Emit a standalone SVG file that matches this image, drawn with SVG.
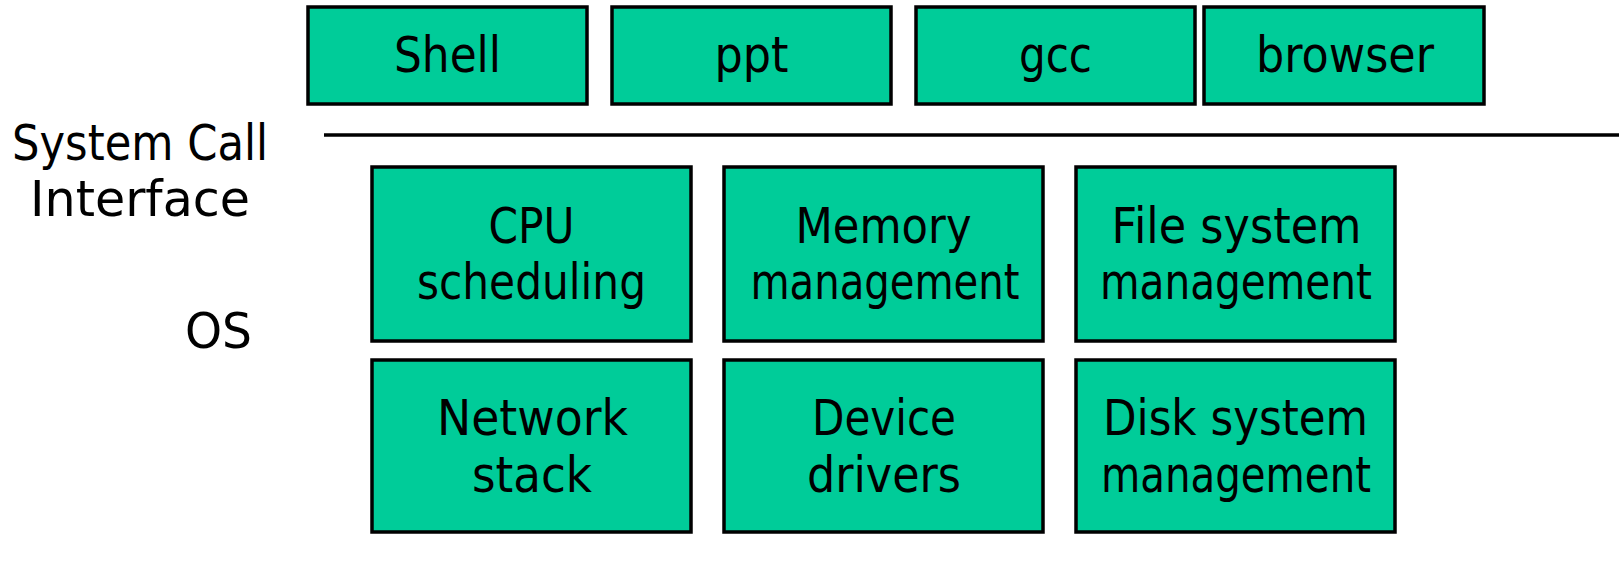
<svg xmlns="http://www.w3.org/2000/svg" width="1619" height="565" viewBox="0 0 1619 565">
  <style>
    .box { fill: #00CC99; stroke: #000000; stroke-width: 3.5; }
    .lbl { font-family: "Comic Sans MS", "DejaVu Sans", sans-serif; font-size: 49px; fill: #000000; text-anchor: middle; }
    .side { font-family: "Comic Sans MS", "DejaVu Sans", sans-serif; font-size: 49px; fill: #000000; text-anchor: middle; }
    .rule { stroke: #000000; stroke-width: 3.5; fill: none; }
  </style>
  <rect x="0" y="0" width="1619" height="565" fill="#ffffff"/>

  <!-- user programs -->
  <g id="shell">
    <rect class="box" x="308" y="7" width="279" height="97"/>
    <text class="lbl" x="447.5" y="72" textLength="107" lengthAdjust="spacingAndGlyphs">Shell</text>
  </g>
  <g id="ppt">
    <rect class="box" x="612" y="7" width="279" height="97"/>
    <text class="lbl" x="751.5" y="72" textLength="74" lengthAdjust="spacingAndGlyphs">ppt</text>
  </g>
  <g id="gcc">
    <rect class="box" x="916" y="7" width="279" height="97"/>
    <text class="lbl" x="1055.5" y="72" textLength="73" lengthAdjust="spacingAndGlyphs">gcc</text>
  </g>
  <g id="browser">
    <rect class="box" x="1204" y="7" width="280" height="97"/>
    <text class="lbl" x="1345" y="72" textLength="178" lengthAdjust="spacingAndGlyphs">browser</text>
  </g>

  <!-- system call boundary -->
  <g id="connectors">
    <line class="rule" x1="324" y1="135" x2="1619" y2="135"/>
  </g>

  <g id="syscall-label">
    <text class="side" x="140" y="160" textLength="256" lengthAdjust="spacingAndGlyphs">System Call</text>
    <text class="side" x="140" y="216" textLength="220" lengthAdjust="spacingAndGlyphs">Interface</text>
  </g>
  <g id="os-label">
    <text class="side" x="218.5" y="348" textLength="67" lengthAdjust="spacingAndGlyphs">OS</text>
  </g>

  <!-- kernel subsystems -->
  <g id="cpu">
    <rect class="box" x="372" y="167" width="319" height="174"/>
    <text class="lbl" x="531.5" y="243" textLength="86" lengthAdjust="spacingAndGlyphs">CPU</text>
    <text class="lbl" x="531.5" y="299" textLength="229" lengthAdjust="spacingAndGlyphs">scheduling</text>
  </g>
  <g id="memory">
    <rect class="box" x="724" y="167" width="319" height="174"/>
    <text class="lbl" x="883.5" y="243" textLength="176" lengthAdjust="spacingAndGlyphs">Memory</text>
    <text class="lbl" x="885" y="299" textLength="269" lengthAdjust="spacingAndGlyphs">management</text>
  </g>
  <g id="filesystem">
    <rect class="box" x="1076" y="167" width="319" height="174"/>
    <text class="lbl" x="1236.5" y="243" textLength="250" lengthAdjust="spacingAndGlyphs">File system</text>
    <text class="lbl" x="1236" y="299" textLength="272" lengthAdjust="spacingAndGlyphs">management</text>
  </g>
  <g id="network">
    <rect class="box" x="372" y="360" width="319" height="172"/>
    <text class="lbl" x="532.5" y="435" textLength="191" lengthAdjust="spacingAndGlyphs">Network</text>
    <text class="lbl" x="532" y="492" textLength="120" lengthAdjust="spacingAndGlyphs">stack</text>
  </g>
  <g id="devices">
    <rect class="box" x="724" y="360" width="319" height="172"/>
    <text class="lbl" x="884" y="435" textLength="144" lengthAdjust="spacingAndGlyphs">Device</text>
    <text class="lbl" x="884" y="492" textLength="154" lengthAdjust="spacingAndGlyphs">drivers</text>
  </g>
  <g id="disk">
    <rect class="box" x="1076" y="360" width="319" height="172"/>
    <text class="lbl" x="1235.5" y="435" textLength="265" lengthAdjust="spacingAndGlyphs">Disk system</text>
    <text class="lbl" x="1236" y="492" textLength="270" lengthAdjust="spacingAndGlyphs">management</text>
  </g>
</svg>
